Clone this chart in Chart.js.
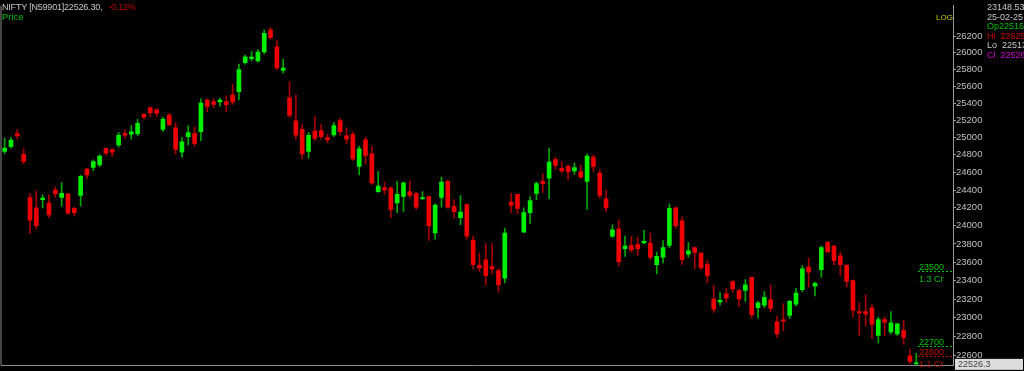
<!DOCTYPE html>
<html>
<head>
  <meta charset="utf-8">
  <title>NIFTY daily candles</title>
  <script src="https://cdn.jsdelivr.net/npm/chart.js"></script>
  <style>
    body {
      margin: 0;
      padding: 0;
      background: #000;
      overflow: hidden;
    }
    #wrap {
      position: relative;
      width: 1024px;
      height: 371px;
    }
    .txt {
      position: absolute;
      font-family: "Liberation Sans", Arial, sans-serif;
      white-space: nowrap;
    }
    #head { left: 2px; top: 2px; font-size: 9px; line-height: 10px; color: #c8c8c8; letter-spacing: -0.2px; }
    #head span { color: #c00000; margin-left: 6px; }
    #price { left: 2px; top: 12px; font-size: 9.5px; line-height: 10px; color: #00c000; }
    #log { left: 936px; top: 14px; font-size: 8px; line-height: 8px; color: #c8c800; }
    #info { left: 987px; top: 3px; font-size: 9px; line-height: 9.5px; color: #c8c8c8; }
    #info .op { color: #00c000; }
    #info .hi { color: #d00000; }
    #info .cl { color: #d000d0; }
  </style>
</head>
<body>
  <div id="wrap">
    <canvas id="myChart"></canvas>
    <div class="txt" id="head">NIFTY [N59901]22526.30,<span>-0.12%</span></div>
    <div class="txt" id="price">Price</div>
    <div class="txt" id="log">LOG</div>
    <div class="txt" id="info">
      <div>23148.53</div>
      <div>25-02-25</div>
      <div class="op">Op22516.</div>
      <div class="hi">Hi&nbsp; 22625.</div>
      <div>Lo&nbsp; 22513.</div>
      <div class="cl">Cl&nbsp; 22526.</div>
    </div>
  </div>

  <script>
    // candle values, oldest first
    const opens = [
      24838, 24895, 25044, 24805, 24316, 24200, 24291, 24254, 24400, 24316,
      24356, 24193, 24338, 24638, 24657, 24684, 24876, 24861, 24913, 25044,
      25037, 25044, 25268, 25347, 25324, 25093, 25260, 25111, 24831, 25008,
      25044, 25067, 25437, 25418, 25415, 25418, 25494, 25536, 25880, 25926,
      25900, 26007, 26274, 26069, 25788, 25462, 25192, 25093, 24838, 25074,
      25081, 25000, 25030, 25196, 25019, 25037, 24669, 24974, 24811, 24382,
      24425, 24425, 24254, 24327, 24382, 24360, 24303, 24327, 23920, 24316,
      24498, 24218, 24091, 24237, 23838, 23565, 23625, 23552, 23509, 23426,
      24265, 24352, 23930, 24146, 24363, 24498, 24534, 24747, 24646, 24669,
      24615, 24608, 24498, 24773, 24592, 24302, 23886, 23966, 23748, 23782,
      23793, 23810, 23810, 23572, 23653, 23782, 24200, 24055, 23688, 23758,
      23698, 23572, 23200, 23170, 23257, 23390, 23293, 23293, 23436, 23108,
      23135, 23193, 22957, 22979, 23027, 23145, 23302, 23545, 23340, 23518,
      23817, 23775, 23670, 23565, 23400, 23067, 23067, 23108, 22814, 22982,
      22850, 22829, 22864, 22600, 22516
    ];
    const highs = [
      24989, 25000, 25092, 24868, 24363, 24392, 24346, 24346, 24436, 24483,
      24363, 24208, 24570, 24646, 24742, 24800, 24879, 24868, 25056, 25085,
      25138, 25211, 25279, 25355, 25332, 25234, 25279, 25174, 25000, 25138,
      25122, 25449, 25449, 25449, 25460, 25486, 25619, 25862, 25969, 26015,
      26038, 26274, 26302, 26151, 25923, 25650, 25497, 25148, 25056, 25242,
      25148, 25037, 25174, 25222, 25111, 25063, 24898, 25000, 24898, 24608,
      24491, 24436, 24498, 24491, 24505, 24374, 24382, 24327, 24244, 24545,
      24509, 24291, 24338, 24244, 23887, 23698, 23803, 23803, 23527, 23973,
      24363, 24352, 24200, 24327, 24491, 24582, 24876, 24773, 24723, 24684,
      24707, 24684, 24811, 24800, 24630, 24400, 24011, 24070, 23887, 23880,
      23873, 23950, 23920, 23711, 23835, 24244, 24208, 24100, 23814, 23768,
      23705, 23618, 23350, 23271, 23312, 23400, 23304, 23410, 23436, 23176,
      23280, 23350, 23017, 23153, 23186, 23314, 23563, 23643, 23384, 23775,
      23828, 23782, 23711, 23572, 23410, 23163, 23245, 23142, 23007, 23007,
      23067, 22943, 22971, 22671, 22625
    ];
    const lows = [
      24811, 24876, 24981, 24697, 23914, 23966, 24200, 24091, 24316, 24218,
      24128, 24110, 24218, 24534, 24619, 24666, 24793, 24785, 24887, 24989,
      24981, 25019, 25211, 25242, 25242, 25071, 25137, 24811, 24774, 24913,
      24898, 24963, 25299, 25347, 25362, 25299, 25384, 25437, 25862, 25900,
      25885, 25988, 26163, 25796, 25753, 25234, 24981, 24754, 24762, 24963,
      24981, 24936, 25011, 25026, 24925, 24736, 24570, 24697, 24462, 24374,
      24352, 24091, 24146, 24157, 24309, 24183, 24291, 23838, 23852, 24208,
      24193, 24085, 24011, 23852, 23530, 23499, 23353, 23473, 23274, 23375,
      24146, 24135, 23930, 24025, 24291, 24374, 24302, 24638, 24592, 24515,
      24580, 24534, 24183, 24608, 24309, 24157, 23872, 23558, 23663, 23705,
      23673, 23803, 23628, 23473, 23592, 23758, 23973, 23572, 23653, 23530,
      23522, 23375, 23057, 23135, 23170, 23271, 23119, 23176, 22993, 23000,
      23108, 23064, 22793, 22864, 22993, 23128, 23280, 23328, 23235, 23436,
      23705, 23572, 23454, 23330, 23007, 22814, 22911, 22779, 22734, 22814,
      22829, 22814, 22722, 22517, 22513
    ];
    const closes = [
      24879, 24969, 25019, 24724, 24063, 24000, 24309, 24120, 24360, 24363,
      24139, 24146, 24556, 24570, 24723, 24785, 24819, 24831, 25026, 25026,
      25064, 25163, 25237, 25287, 25283, 25211, 25148, 24861, 24951, 25056,
      24932, 25400, 25362, 25384, 25437, 25381, 25415, 25796, 25949, 25946,
      26007, 26233, 26179, 25816, 25816, 25257, 25026, 24811, 25026, 24989,
      25008, 24974, 25137, 25067, 24981, 24754, 24868, 24793, 24480, 24444,
      24400, 24183, 24352, 24480, 24338, 24208, 24316, 24000, 24230, 24491,
      24208, 24157, 24153, 23886, 23572, 23537, 23454, 23527, 23353, 23920,
      24230, 24193, 24146, 24280, 24472, 24472, 24716, 24680, 24615, 24608,
      24653, 24545, 24785, 24669, 24338, 24200, 23955, 23606, 23775, 23733,
      23748, 23828, 23653, 23663, 23758, 24193, 24000, 23628, 23723, 23705,
      23537, 23450, 23092, 23186, 23211, 23310, 23203, 23353, 23034, 23159,
      23220, 23101, 22829, 22964, 23176, 23264, 23527, 23491, 23371, 23758,
      23712, 23616, 23572, 23390, 23081, 23052, 23040, 22929, 22982, 22954,
      22946, 22936, 22793, 22542, 22526.3
    ];

    // right axis ticks
    const yTicks = [
      22600, 22800, 23000, 23200, 23400, 23600, 23800, 24000, 24200,
      24400, 24600, 24800, 25000, 25200, 25400, 25600, 25800, 26000, 26200
    ];

    // marked price levels on the right edge
    const levelValues = [23500, 22700, 22600];
    const levelNotes = ['1.3 Cr', '', '1.1 Cr'];
    const levelColors = ['#00c000', '#00c000', '#c00000'];

    Chart.defaults.font.family = '"Liberation Sans", Arial, sans-serif';
    Chart.defaults.font.size = 9.5;

    const idx = opens.map((_, i) => i);
    const up = idx.map(i => closes[i] >= opens[i]);

    const overlay = {
      id: 'overlay',
      afterDraw(chart) {
        const { ctx, chartArea: a, scales: { y } } = chart;
        ctx.save();
        // left frame line
        ctx.strokeStyle = '#8a8a8a';
        ctx.lineWidth = 1;
        ctx.beginPath();
        ctx.moveTo(1, a.top);
        ctx.lineTo(1, a.bottom);
        ctx.stroke();

        ctx.font = '9px "Liberation Sans", Arial, sans-serif';
        levelValues.forEach((v, i) => {
          const py = Math.round(y.getPixelForValue(v)) + 0.5;
          ctx.strokeStyle = levelColors[i];
          ctx.setLineDash([2, 2]);
          ctx.beginPath();
          ctx.moveTo(a.right - 35, py);
          ctx.lineTo(a.right, py);
          ctx.stroke();
          ctx.setLineDash([]);
          ctx.fillStyle = levelColors[i];
          ctx.fillText(String(v), a.right - 34, py - 2);
          if (levelNotes[i]) ctx.fillText(levelNotes[i], a.right - 34, py + 10);
        });

        // last price tag
        const last = closes[closes.length - 1];
        const ly = y.getPixelForValue(last);
        ctx.fillStyle = '#dcdcdc';
        ctx.fillRect(a.right + 2, ly - 4, 68, 11);
        ctx.fillStyle = '#404040';
        ctx.textBaseline = 'middle';
        ctx.fillText(last.toFixed(1), a.right + 5, ly + 1.5);
        ctx.restore();
      }
    };

    const ctx = document.getElementById('myChart').getContext('2d');
    const chart = new Chart(ctx, {
      type: 'bar',
      data: {
        datasets: [{
          label: 'body',
          data: idx.map(i => ({ x: i, y: [opens[i], closes[i]] })),
          backgroundColor: up.map(u => u ? '#00ee00' : '#ee0000'),
          barThickness: 4,
          minBarLength: 1,
          grouped: false,
          order: 0
        }, {
          label: 'wick',
          data: idx.map(i => ({ x: i, y: [lows[i], highs[i]] })),
          backgroundColor: up.map(u => u ? '#00a800' : '#a80000'),
          barThickness: 1,
          grouped: false,
          order: 1
        }]
      },
      options: {
        responsive: true,
        maintainAspectRatio: false,
        animation: false,
        layout: { padding: { left: 1.5, top: 0, right: 0, bottom: 0 } },
        plugins: {
          legend: { display: false },
          tooltip: { enabled: false }
        },
        scales: {
          x: {
            type: 'linear',
            min: -0.5,
            max: 149.8,
            offset: false,
            ticks: { display: false },
            grid: { display: false },
            border: { display: true, color: '#8a8a8a', width: 1 },
            afterFit: s => { s.height = 4; }
          },
          y: {
            type: 'logarithmic',
            position: 'right',
            min: 22501,
            max: 26570,
            bounds: 'data',
            afterBuildTicks: s => { s.ticks = yTicks.map(v => ({ value: v })); },
            afterFit: s => { s.width = 71; },
            ticks: {
              color: '#c0c0c0',
              padding: 0,
              autoSkip: false,
              callback: v => String(v)
            },
            grid: {
              drawOnChartArea: false,
              drawTicks: true,
              tickLength: 3,
              color: '#a0a0a0'
            },
            border: { display: true, color: '#9a9a9a', width: 1 }
          }
        }
      },
      plugins: [overlay]
    });
  </script>
</body>
</html>
